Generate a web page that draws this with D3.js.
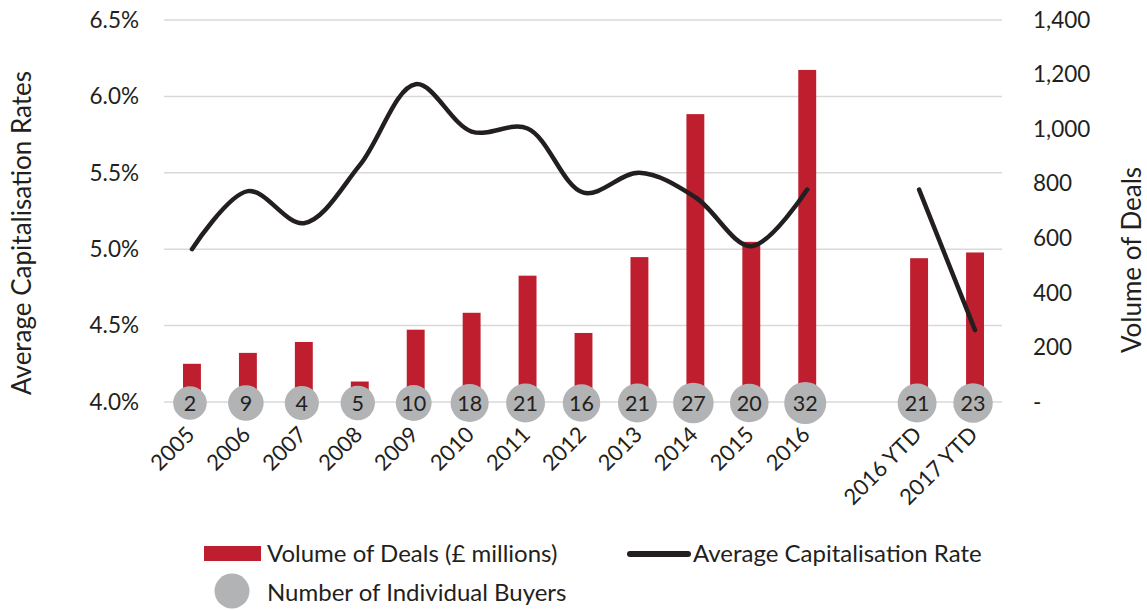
<!DOCTYPE html>
<html>
<head>
<meta charset="utf-8">
<script src="https://cdn.jsdelivr.net/npm/d3@7/dist/d3.min.js"></script>
<style>
  html, body { margin: 0; padding: 0; background: #fff; }
  svg { display: block; }
  text { font-family: Lato, "Open Sans", sans-serif; fill: #231f20; }
</style>
</head>
<body>
<svg id="chart" width="1147" height="610"></svg>
<script>
// ---- data ----
const categories = ["2005","2006","2007","2008","2009","2010","2011","2012","2013","2014","2015","2016","","2016 YTD","2017 YTD"];
const volume = [140, 180, 220, 75, 265, 327, 463, 253, 531, 1055, 587, 1217, null, 527, 548];
const capRate = [5.00, 5.38, 5.17, 5.55, 6.08, 5.77, 5.79, 5.37, 5.50, 5.34, 5.02, 5.39, null, 5.39, 4.47];
const buyers = [2, 9, 4, 5, 10, 18, 21, 16, 21, 27, 20, 32, null, 21, 23];
const leftTicks = [4.0, 4.5, 5.0, 5.5, 6.0, 6.5];
const rightTicks = [0, 200, 400, 600, 800, 1000, 1200, 1400];
const legendLabels = ["Volume of Deals (£ millions)", "Average Capitalisation Rate", "Number of Individual Buyers"];

// ---- layout ----
const svg = d3.select("#chart");
const plot = { left: 164, right: 1003, top: 20, bottom: 402 };

const x = d3.scaleBand().domain(categories.map((c, i) => i))
  .range([plot.left, plot.right]).paddingInner(0.68).paddingOuter(0.34);
const yL = d3.scaleLinear().domain([4.0, 6.5]).range([plot.bottom, plot.top]);
const yR = d3.scaleLinear().domain([0, 1400]).range([plot.bottom, plot.top]);
const rScale = d3.scaleLinear().domain([0, 32]).range([16.5, 21]);
const cx = i => x(i) + x.bandwidth() / 2;

// gridlines
svg.append("g").selectAll("line").data(leftTicks).join("line")
  .attr("x1", plot.left).attr("x2", plot.right - 1)
  .attr("y1", d => yL(d)).attr("y2", d => yL(d))
  .attr("stroke", "#d9d9d9").attr("stroke-width", 1.5);

// left axis
const axL = d3.axisLeft(yL).tickValues(leftTicks).tickSize(0).tickPadding(0)
  .tickFormat(d => d3.format(".1f")(d) + "%");
const gL = svg.append("g").attr("transform", `translate(139,0)`).call(axL);
gL.select(".domain").remove();
gL.selectAll("text").attr("font-size", 22.5).attr("font-family", "Lato").attr("fill", "#231f20");

// right axis
const axR = d3.axisRight(yR).tickValues(rightTicks).tickSize(0).tickPadding(0)
  .tickFormat(d => d === 0 ? "-" : d3.format(",")(d));
const gR = svg.append("g").attr("transform", `translate(1033,0)`).call(axR);
gR.select(".domain").remove();
gR.selectAll("text").attr("font-size", 22.5).attr("font-family", "Lato").attr("fill", "#231f20");

// bars
svg.append("g").selectAll("rect")
  .data(volume.map((v, i) => ({ v, i })).filter(d => d.v != null))
  .join("rect")
  .attr("x", d => x(d.i)).attr("width", x.bandwidth())
  .attr("y", d => yR(d.v)).attr("height", d => yR(0) - yR(d.v))
  .attr("fill", "#be1e2d");

// line (two segments split at the blank category)
const line = d3.line().defined(d => d.v != null)
  .x(d => cx(d.i)).y(d => yL(d.v)).curve(d3.curveCatmullRom.alpha(0.5));
const pts = capRate.map((v, i) => ({ v, i }));
const segs = [pts.slice(0, 12), pts.slice(13)];
svg.append("g").selectAll("path").data(segs).join("path")
  .attr("d", line).attr("fill", "none")
  .attr("stroke", "#231f20").attr("stroke-width", 4.5)
  .attr("stroke-linecap", "round").attr("stroke-linejoin", "round");

// bubbles
const bub = svg.append("g").selectAll("g")
  .data(buyers.map((v, i) => ({ v, i })).filter(d => d.v != null))
  .join("g").attr("transform", d => `translate(${cx(d.i) - 2},${plot.bottom + 1})`);
bub.append("circle").attr("r", d => rScale(d.v)).attr("fill", "#b2b3b5");
bub.append("text").attr("text-anchor", "middle").attr("dy", "0.36em")
  .attr("font-size", 21.5).text(d => d.v);

// x labels
svg.append("g").selectAll("text")
  .data(categories.map((c, i) => ({ c, i })).filter(d => d.c !== ""))
  .join("text")
  .attr("transform", d => `translate(${cx(d.i) + 4},436) rotate(-45)`)
  .attr("text-anchor", "end").attr("font-size", 22).text(d => d.c);

// axis titles
svg.append("text").attr("transform", "translate(31,233) rotate(-90)")
  .attr("text-anchor", "middle").attr("font-size", 26).text("Average Capitalisation Rates");
svg.append("text").attr("transform", "translate(1141,260) rotate(-90)")
  .attr("text-anchor", "middle").attr("font-size", 26).text("Volume of Deals");

// legend
const lg = svg.append("g");
lg.append("rect").attr("x", 204).attr("y", 546).attr("width", 57).attr("height", 15).attr("fill", "#be1e2d");
lg.append("text").attr("x", 267).attr("y", 553).attr("dy", "0.36em").attr("font-size", 24).text(legendLabels[0]);
lg.append("line").attr("x1", 630).attr("x2", 688).attr("y1", 554).attr("y2", 554)
  .attr("stroke", "#231f20").attr("stroke-width", 6).attr("stroke-linecap", "round");
lg.append("text").attr("x", 693).attr("y", 553).attr("dy", "0.36em").attr("font-size", 24).text(legendLabels[1]);
lg.append("circle").attr("cx", 232).attr("cy", 591).attr("r", 17.5).attr("fill", "#b2b3b5");
lg.append("text").attr("x", 267).attr("y", 592).attr("dy", "0.36em").attr("font-size", 24).text(legendLabels[2]);
</script>
</body>
</html>
